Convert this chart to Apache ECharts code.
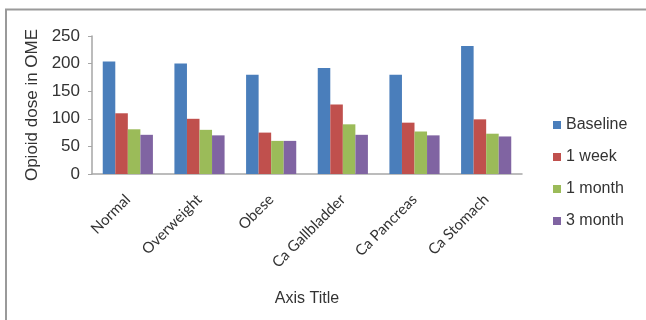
<!DOCTYPE html>
<html>
<head>
<meta charset="utf-8">
<script src="https://cdn.jsdelivr.net/npm/echarts@6/dist/echarts.min.js"></script>
<style>
  html, body { margin: 0; padding: 0; background: #fff; }
  #chart { width: 646px; height: 320px; }
</style>
</head>
<body>
<div id="chart"></div>
<script>
// Opioid dose (OME) by patient group, at baseline and follow-up
const categories = ['Normal', 'Overweight', 'Obese', 'Ca Gallbladder', 'Ca Pancreas', 'Ca Stomach'];
const baseline   = [204, 200, 180, 192, 180, 232];
const oneWeek    = [110, 100, 75, 126, 93, 99];
const oneMonth   = [81, 80, 60, 90, 77, 73];
const threeMonth = [71, 70, 60, 71, 70, 68];
const seriesNames = ['Baseline', '1 week', '1 month', '3 month'];
const seriesColors = ['#4a7ebb', '#c0504d', '#9bbb59', '#8064a2'];

const font = 'Liberation Sans, Arial, sans-serif';
const chart = echarts.init(document.getElementById('chart'), null, { renderer: 'canvas' });

const values = [baseline, oneWeek, oneMonth, threeMonth];

chart.setOption({
  animation: false,
  backgroundColor: '#fff',
  graphic: [{
    type: 'rect',
    shape: { x: 6, y: 9.5, width: 700, height: 400 },
    style: { fill: 'none', stroke: '#9a9a9a', lineWidth: 2 },
    silent: true
  }],
  grid: { left: 92, right: 124, top: 36, bottom: 146 },
  legend: {
    orient: 'vertical',
    left: 548,
    top: 112,
    itemWidth: 8,
    itemHeight: 8,
    itemGap: 16,
    icon: 'rect',
    textStyle: { fontFamily: font, fontSize: 16, color: '#333', lineHeight: 16 },
    data: seriesNames
  },
  xAxis: {
    type: 'category',
    data: categories,
    name: 'Axis Title',
    nameLocation: 'middle',
    nameGap: 117,
    nameTextStyle: { fontFamily: font, fontSize: 16, color: '#333' },
    axisLine: { lineStyle: { color: '#a6a6a6', width: 1.5 } },
    axisTick: { show: false },
    axisLabel: { rotate: 45, margin: 23, fontFamily: 'Lato, Open Sans, sans-serif', fontSize: 15, color: '#333' }
  },
  yAxis: {
    type: 'value',
    min: 0,
    max: 250,
    interval: 50,
    name: 'Opioid dose in OME',
    nameLocation: 'middle',
    nameGap: 50,
    nameTextStyle: { fontFamily: font, fontSize: 17, color: '#333' },
    axisLine: { show: true, lineStyle: { color: '#a6a6a6', width: 1.5 } },
    axisTick: { show: true, length: 4, lineStyle: { color: '#a6a6a6' } },
    splitLine: { show: false },
    axisLabel: { margin: 12, fontFamily: font, fontSize: 17, color: '#333' }
  },
  series: seriesNames.map((name, i) => ({
    name: name,
    type: 'bar',
    data: values[i],
    barGap: '0%',
    barCategoryGap: '30%',
    itemStyle: { color: seriesColors[i] }
  }))
});
</script>
</body>
</html>
